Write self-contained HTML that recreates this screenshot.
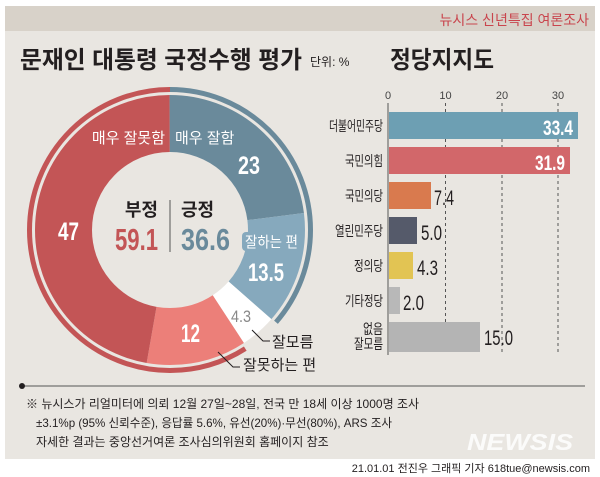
<!DOCTYPE html>
<html><head><meta charset="utf-8"><style>
body{margin:0;width:600px;height:477px;background:#fff;overflow:hidden}
svg{display:block}
text{font-family:"Liberation Sans","Noto Sans CJK KR",sans-serif}
</style></head><body>
<svg width="600" height="477" viewBox="0 0 600 477">
<rect x="5" y="6" width="590" height="453" fill="#e9e6e1"/>
<rect x="5" y="6" width="590" height="25" fill="#d8d2c9"/>
<text x="589" y="25" text-anchor="end" font-size="14" fill="#c9454d">뉴시스 신년특집 여론조사</text>
<text x="20" y="68" font-size="24" font-weight="bold" fill="#231f20" textLength="282" lengthAdjust="spacingAndGlyphs">문재인 대통령 국정수행 평가</text>
<text x="310" y="66" font-size="12" fill="#231f20">단위: %</text>
<text x="390" y="68" font-size="24" font-weight="bold" fill="#231f20" textLength="104" lengthAdjust="spacingAndGlyphs">정당지지도</text>

<g transform="translate(170,230) rotate(-90)" fill="none">
<circle r="106.5" stroke-width="57" pathLength="100" stroke="#6a8a9b" stroke-dasharray="23 77" stroke-dashoffset="0"/>
<circle r="106.5" stroke-width="57" pathLength="100" stroke="#86a9bd" stroke-dasharray="13.5 86.5" stroke-dashoffset="-23"/>
<circle r="106.5" stroke-width="57" pathLength="100" stroke="#ffffff" stroke-dasharray="4.3 95.7" stroke-dashoffset="-36.5"/>
<circle r="106.5" stroke-width="57" pathLength="100" stroke="#ec7f79" stroke-dasharray="12 88" stroke-dashoffset="-40.8"/>
<circle r="106.5" stroke-width="57" pathLength="100" stroke="#c35556" stroke-dasharray="47.2 52.8" stroke-dashoffset="-52.8"/>
<circle r="140.5" stroke-width="5" pathLength="100" stroke="#6a8a9b" stroke-dasharray="36.4 63.6" stroke-dashoffset="0"/>
<circle r="140.5" stroke-width="5" pathLength="100" stroke="#c35556" stroke-dasharray="59 41" stroke-dashoffset="-41"/>
</g>
<text x="165" y="143" text-anchor="end" font-size="15" fill="#fff">매우 잘못함</text>
<text x="175" y="143" font-size="15" fill="#fff">매우 잘함</text>
<text x="238" y="174" font-size="25" font-weight="bold" fill="#fff" textLength="22" lengthAdjust="spacingAndGlyphs">23</text>
<text x="58" y="240" font-size="25" font-weight="bold" fill="#fff" textLength="21" lengthAdjust="spacingAndGlyphs">47</text>
<rect x="242" y="232" width="59" height="19" rx="4" fill="#86a9bd"/>
<text x="245" y="247" font-size="15" fill="#fff" textLength="53" lengthAdjust="spacingAndGlyphs">잘하는 편</text>
<text x="248" y="281" font-size="25" font-weight="bold" fill="#fff" textLength="36" lengthAdjust="spacingAndGlyphs">13.5</text>
<text x="231" y="322" font-size="17" fill="#888" textLength="20" lengthAdjust="spacingAndGlyphs">4.3</text>
<text x="181" y="342" font-size="25" font-weight="bold" fill="#fff" textLength="19" lengthAdjust="spacingAndGlyphs">12</text>
<polyline points="252,330 263,341 270,341" fill="none" stroke="#231f20" stroke-width="1"/>
<text x="272" y="347" font-size="15" fill="#231f20">잘모름</text>
<polyline points="218,352 233,367 240,367" fill="none" stroke="#231f20" stroke-width="1"/>
<text x="243" y="370" font-size="15" fill="#231f20">잘못하는 편</text>

<text x="158" y="216" text-anchor="end" font-size="18" font-weight="bold" fill="#231f20">부정</text>
<text x="115" y="250" font-size="31" font-weight="bold" fill="#c35556" textLength="43" lengthAdjust="spacingAndGlyphs">59.1</text>
<line x1="170" y1="200" x2="170" y2="252" stroke="#555" stroke-width="1"/>
<text x="181" y="216" font-size="18" font-weight="bold" fill="#231f20">긍정</text>
<text x="181" y="250" font-size="31" font-weight="bold" fill="#6a8a9b" textLength="49" lengthAdjust="spacingAndGlyphs">36.6</text>

<g font-size="11" fill="#444" text-anchor="middle">
<text x="388" y="99">0</text><text x="445.5" y="99">10</text><text x="502" y="99">20</text><text x="558" y="99">30</text>
</g>
<g stroke="#555" stroke-width="1" stroke-dasharray="3,3">
<line x1="445.5" y1="103" x2="445.5" y2="355"/><line x1="502" y1="103" x2="502" y2="355"/><line x1="558" y1="103" x2="558" y2="355"/>
</g>
<line x1="388" y1="103" x2="388" y2="355" stroke="#555"/>
<rect x="389" y="112" width="189" height="27" fill="#6d9fb3"/>
<rect x="389" y="147" width="181" height="27" fill="#d2676a"/>
<rect x="389" y="182" width="42" height="27" fill="#d97a4e"/>
<rect x="389" y="217" width="28" height="27" fill="#555a6a"/>
<rect x="389" y="252" width="24" height="27" fill="#e2c453"/>
<rect x="389" y="287" width="11" height="27" fill="#b8b8b8"/>
<rect x="389" y="322" width="91" height="30" fill="#b4b4b4"/>
<g font-size="14" fill="#231f20" text-anchor="end" lengthAdjust="spacingAndGlyphs">
<text x="383" y="131" textLength="54" lengthAdjust="spacingAndGlyphs">더불어민주당</text>
<text x="383" y="166" textLength="38" lengthAdjust="spacingAndGlyphs">국민의힘</text>
<text x="383" y="201" textLength="38" lengthAdjust="spacingAndGlyphs">국민의당</text>
<text x="383" y="236" textLength="48" lengthAdjust="spacingAndGlyphs">열린민주당</text>
<text x="383" y="271" textLength="29" lengthAdjust="spacingAndGlyphs">정의당</text>
<text x="383" y="306" textLength="38" lengthAdjust="spacingAndGlyphs">기타정당</text>
<text x="383" y="334" textLength="20" lengthAdjust="spacingAndGlyphs">없음</text>
<text x="383" y="349" textLength="29" lengthAdjust="spacingAndGlyphs">잘모름</text>
</g>
<g font-size="21" fill="#231f20">
<text x="543" y="135" fill="#fff" font-weight="bold" textLength="30" lengthAdjust="spacingAndGlyphs">33.4</text>
<text x="535" y="170" fill="#fff" font-weight="bold" textLength="30" lengthAdjust="spacingAndGlyphs">31.9</text>
<text x="434" y="205" textLength="20" lengthAdjust="spacingAndGlyphs">7.4</text>
<text x="421" y="240" textLength="21" lengthAdjust="spacingAndGlyphs">5.0</text>
<text x="417" y="275" textLength="21" lengthAdjust="spacingAndGlyphs">4.3</text>
<text x="403" y="310" textLength="21" lengthAdjust="spacingAndGlyphs">2.0</text>
<text x="484" y="345" textLength="29" lengthAdjust="spacingAndGlyphs">15.0</text>
</g>

<line x1="22" y1="386" x2="585" y2="386" stroke="#555" stroke-width="1"/>
<circle cx="22" cy="386" r="3" fill="#231f20"/>
<g font-size="12" fill="#231f20">
<text x="26" y="408">※ 뉴시스가 리얼미터에 의뢰 12월 27일~28일, 전국 만 18세 이상 1000명 조사</text>
<text x="36" y="427" textLength="356" lengthAdjust="spacingAndGlyphs">±3.1%p (95% 신뢰수준), 응답률 5.6%, 유선(20%)·무선(80%), ARS 조사</text>
<text x="36" y="446">자세한 결과는 중앙선거여론 조사심의위원회 홈페이지 참조</text>
</g>
<text x="467" y="450" font-size="23" font-weight="bold" font-style="italic" fill="#fff" opacity="0.85" textLength="106" lengthAdjust="spacingAndGlyphs">NEWSIS</text>
<text x="590" y="472" text-anchor="end" font-size="11" fill="#231f20">21.01.01 전진우 그래픽 기자 618tue@newsis.com</text>
</svg>
</body></html>
